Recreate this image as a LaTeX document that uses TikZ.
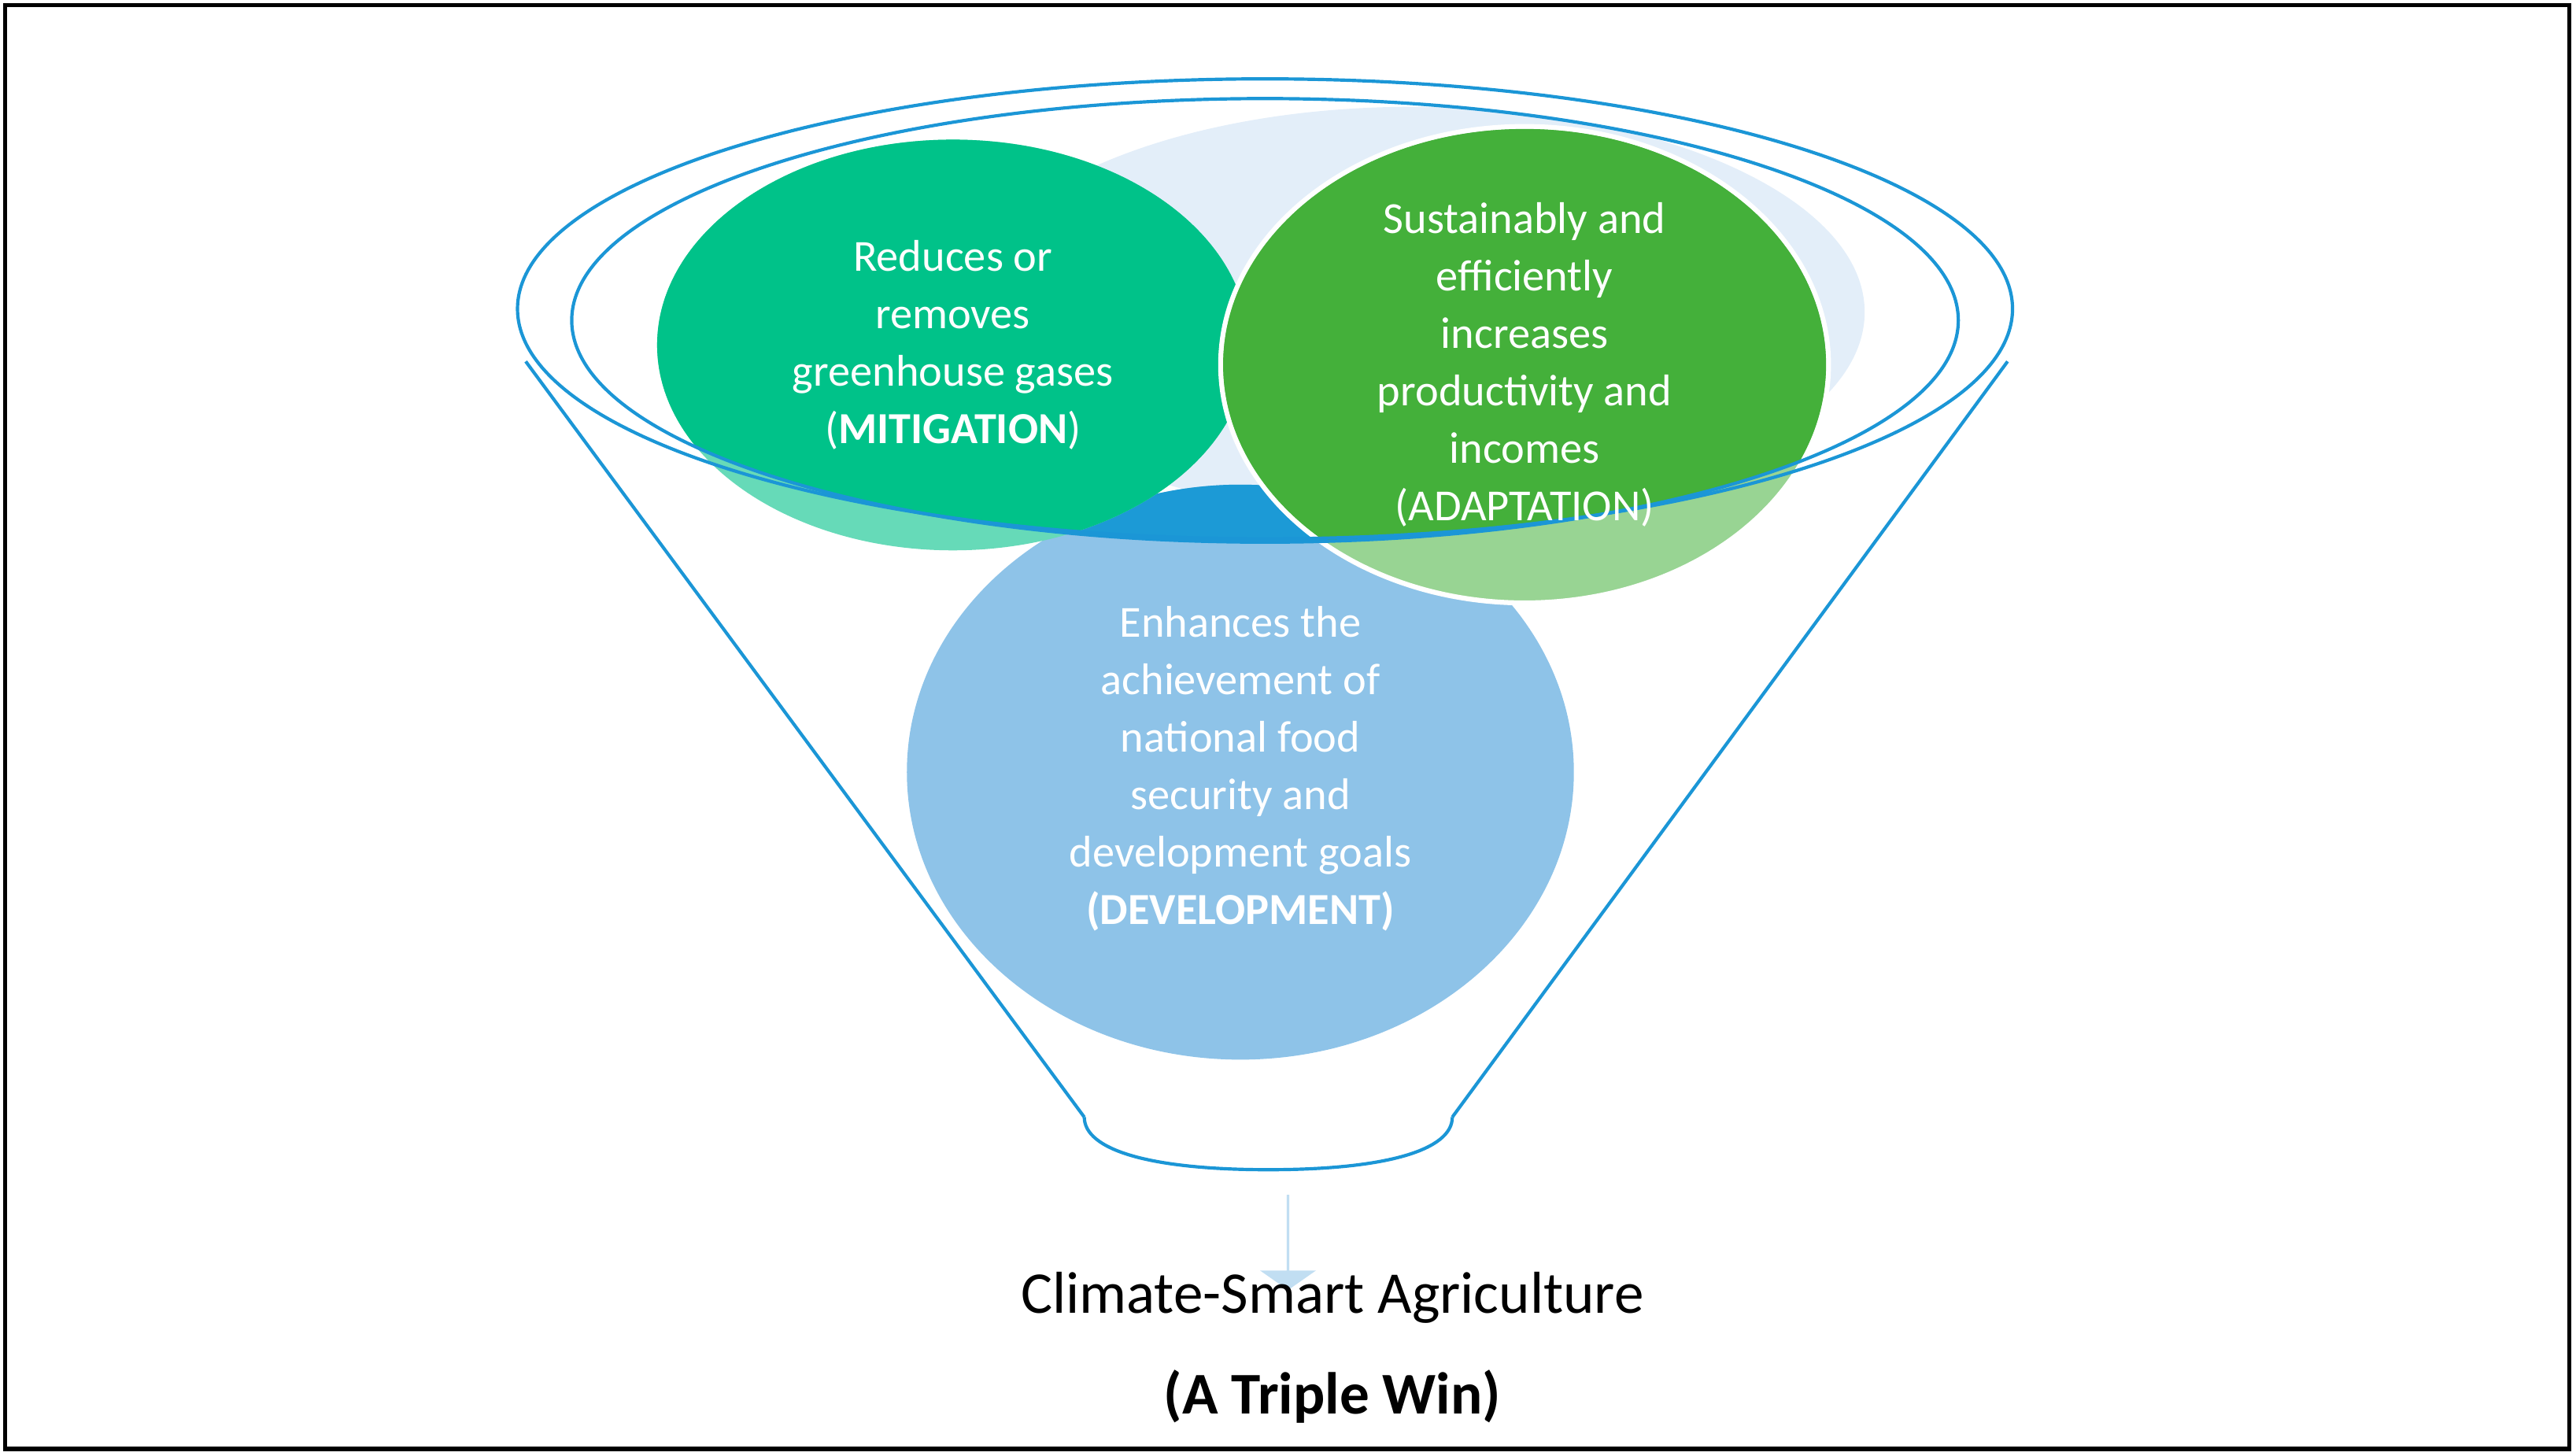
\documentclass[tikz,border=0pt]{standalone}
\usepackage{fontspec}
\setmainfont{Carlito}
\usetikzlibrary{shapes.arrows}
\definecolor{fun}{RGB}{27,150,214}
\definecolor{mit}{RGB}{0,194,137}
\definecolor{ada}{RGB}{68,176,58}
\definecolor{dev}{RGB}{142,195,232}
\definecolor{devd}{RGB}{28,154,214}
\definecolor{bgb}{RGB}{227,238,249}
\tikzset{ctext/.style={text=white,align=center,font=\fontsize{27}{35}\selectfont},
 fl/.style={draw=fun,line width=2pt}}
\begin{document}
\begin{tikzpicture}[x=1pt,y=-1pt]
\useasboundingbox (0,0) rectangle (1568,886);
\draw[line width=2.5pt] (3,3) rectangle (1564,882);
% background blob
\fill[bgb] (860,190) ellipse [x radius=275,y radius=125];
% development
\fill[dev] (755,470) ellipse [x radius=203,y radius=175];
\begin{scope}
\clip (770,195) ellipse [x radius=422,y radius=135];
\fill[devd] (755,470) ellipse [x radius=203,y radius=175];
\end{scope}
% mitigation
\fill[mit!60!white] (580,210) ellipse [x radius=180,y radius=125];
\begin{scope}
\clip (770,195) ellipse [x radius=422,y radius=135];
\fill[mit] (580,210) ellipse [x radius=180,y radius=125];
\end{scope}
% adaptation
\draw[white,line width=3pt,fill=ada!55!white] (928,222) ellipse [x radius=185,y radius=145];
\begin{scope}
\clip (770,195) ellipse [x radius=422,y radius=135];
\fill[ada] (928,222) ellipse [x radius=183.5,y radius=143.5];
\end{scope}
% funnel
\draw[fl] (770,188) ellipse [x radius=455,y radius=140];
\draw[fl] (770,195) ellipse [x radius=422,y radius=135];
\coordinate (l1) at (320,220); \coordinate (l2) at (660,680);
\coordinate (r1) at (1222,220); \coordinate (r2) at (884,680);
\draw[fl] (l1) -- (l2);
\draw[fl] (r1) -- (r2);
\draw[fl] (l2) .. controls (660,700) and (700,712) .. (772,712) .. controls (844,712) and (884,700) .. (r2);
% texts
\node[ctext] (m) at (580,210) {Reduces or\\removes\\greenhouse gases\\(\textbf{MITIGATION})};
\node[ctext] (a) at (928,222) {Sustainably and\\efficiently\\increases\\productivity and\\incomes\\(ADAPTATION)};
\node[ctext] (d) at (755,468) {Enhances the\\achievement of\\national food\\security and\\development goals\\\textbf{(DEVELOPMENT)}};
% arrow
\node[single arrow,shape border rotate=270,fill=dev!55!white,minimum width=34pt,single arrow head extend=4pt,single arrow tip angle=110,minimum height=58pt,inner sep=0pt] (ar) at (784,756) {};
\node[font=\fontsize{36}{40}\selectfont] (t1) at (811,790) {Climate-Smart Agriculture};
\node[font=\bfseries\fontsize{36}{40}\selectfont] (t2) at (811,850) {(A Triple Win)};
\end{tikzpicture}
\end{document}
